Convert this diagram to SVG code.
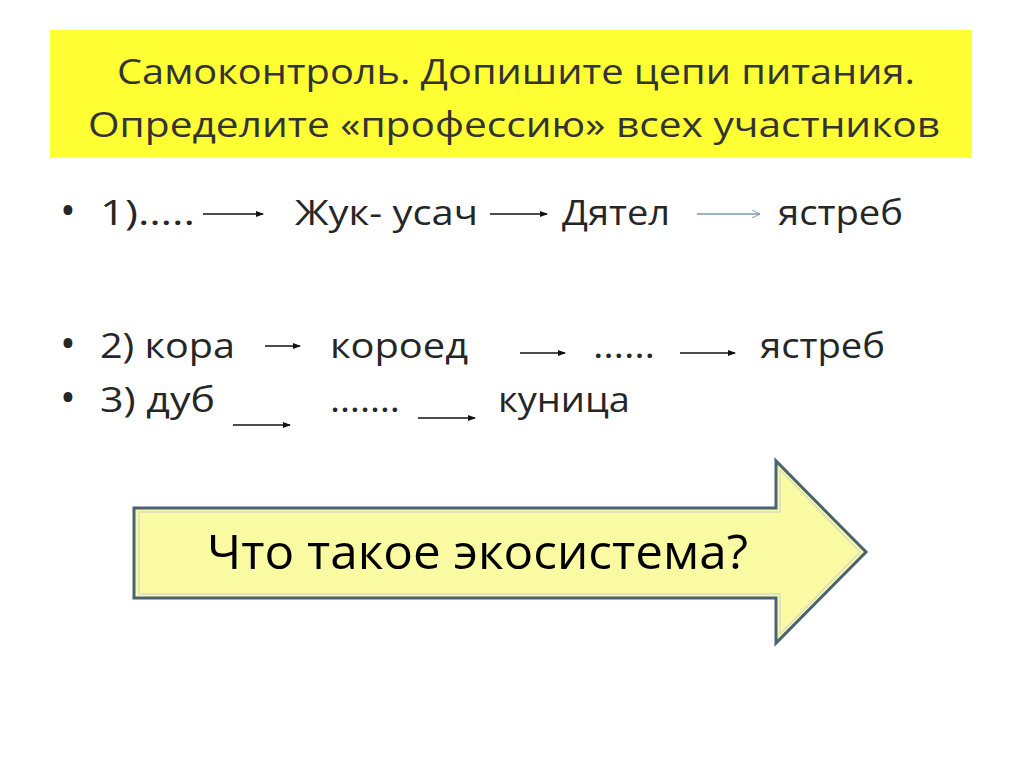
<svg xmlns="http://www.w3.org/2000/svg" width="1024" height="768" viewBox="0 0 1024 768">
<defs>
<style>
.t{font-family:"Open Sans","Liberation Sans",sans-serif;fill:#262626;font-size:35px}
.h{font-family:"Open Sans","Liberation Sans",sans-serif;fill:#333;font-size:35px}
.c{stroke:#111;stroke-width:1.3;fill:none}
</style>
<marker id="a" markerWidth="8" markerHeight="6" refX="7" refY="3" orient="auto" markerUnits="userSpaceOnUse"><path d="M0,0 L8,3 L0,6 Z" fill="#111"/></marker>
<marker id="b" markerWidth="9" markerHeight="8" refX="8" refY="4" orient="auto" markerUnits="userSpaceOnUse"><path d="M0,0 L8,4 L0,8" fill="none" stroke="#7d98b3" stroke-width="1"/></marker>
</defs>
<rect width="1024" height="768" fill="#fff"/>
<g id="header">
<rect x="50" y="30" width="922" height="128" fill="#ffff33"/>
<text class="h" x="117" y="84" textLength="798" lengthAdjust="spacingAndGlyphs">Самоконтроль.  Допишите цепи питания.</text>
<text class="h" x="88" y="137" textLength="852" lengthAdjust="spacingAndGlyphs">Определите «профессию»  всех  участников</text>
</g>
<g id="bullets" class="t">
<text x="60" y="225" font-size="42">•</text><text x="60" y="358" font-size="42">•</text><text x="60" y="412" font-size="42">•</text>
<text x="100" y="225" textLength="95" lengthAdjust="spacingAndGlyphs">1)…..</text>
<text x="295" y="225" textLength="183" lengthAdjust="spacingAndGlyphs">Жук- усач</text>
<text x="562" y="225" textLength="108" lengthAdjust="spacingAndGlyphs">Дятел</text>
<text x="778" y="225" textLength="125" lengthAdjust="spacingAndGlyphs">ястреб</text>
<text x="100" y="358" textLength="135" lengthAdjust="spacingAndGlyphs">2) кора</text>
<text x="330" y="358" textLength="138" lengthAdjust="spacingAndGlyphs">короед</text>
<text x="593" y="358" textLength="62" lengthAdjust="spacingAndGlyphs">……</text>
<text x="760" y="358" textLength="125" lengthAdjust="spacingAndGlyphs">ястреб</text>
<text x="100" y="412" textLength="115" lengthAdjust="spacingAndGlyphs">3) дуб</text>
<text x="330" y="412" textLength="70" lengthAdjust="spacingAndGlyphs">…….</text>
<text x="498" y="412" textLength="132" lengthAdjust="spacingAndGlyphs">куница</text>
</g>
<g id="connectors">
<line class="c" x1="203" y1="214" x2="263" y2="214" marker-end="url(#a)"/>
<line class="c" x1="490" y1="214" x2="547" y2="214" marker-end="url(#a)"/>
<line x1="697" y1="214" x2="760" y2="214" stroke="#7d98b3" stroke-width="1.3" marker-end="url(#b)"/>
<line class="c" x1="265" y1="346" x2="300" y2="346" marker-end="url(#a)"/>
<line class="c" x1="520" y1="353" x2="565" y2="353" marker-end="url(#a)"/>
<line class="c" x1="680" y1="353" x2="735" y2="353" marker-end="url(#a)"/>
<line class="c" x1="233" y1="425" x2="290" y2="425" marker-end="url(#a)"/>
<line class="c" x1="418" y1="418" x2="475" y2="418" marker-end="url(#a)"/>
</g>
<g id="bigArrow">
<path d="M134,508 L776,508 L776,461 L866,552 L776,643 L776,598 L134,598 Z" fill="#fafaa2" stroke="#4a6272" stroke-width="3"/>
<path d="M139,512 L780,512 L780,470 L860,552 L780,634 L780,594 L139,594 Z" fill="none" stroke="#d8dcc8" stroke-width="1.5"/>
<text x="207" y="569" font-family="Open Sans, Liberation Sans, sans-serif" font-size="47" fill="#000" textLength="541" lengthAdjust="spacingAndGlyphs">Что такое экосистема?</text>
</g>
</svg>
